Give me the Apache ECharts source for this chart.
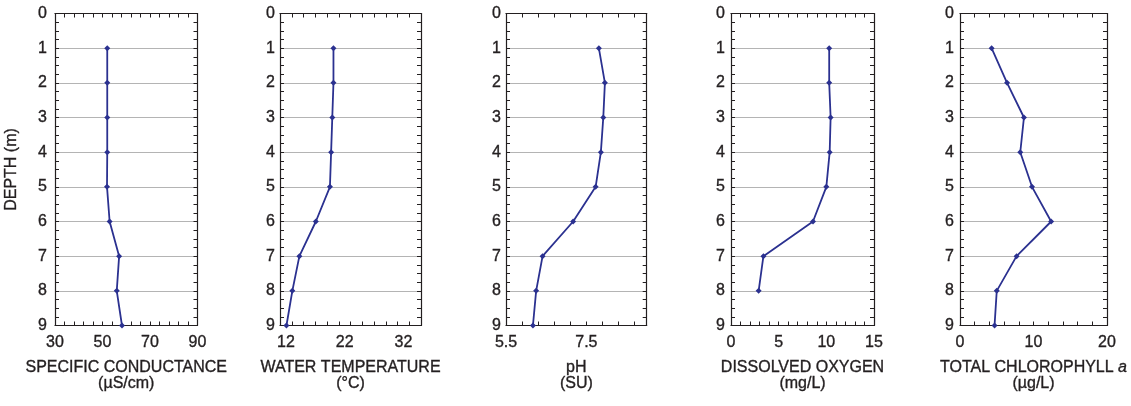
<!DOCTYPE html>
<html><head><meta charset="utf-8">
<script src="https://cdn.jsdelivr.net/npm/echarts@6/dist/echarts.min.js"></script>
<style>html,body{margin:0;padding:0;background:#fff}#c{width:1131px;height:406px}</style>
</head><body><div id="c"></div>
<script>
// ---- data ----
const depths = [1, 2, 3, 4, 5, 6, 7, 8, 9];
const conductance = [52, 52, 52, 52, 51.9, 53, 57, 56, 58.2];
const temperature = [20.1, 20.1, 19.9, 19.7, 19.5, 17.1, 14.3, 13.1, 12.1];
const ph = [7.81, 7.96, 7.92, 7.86, 7.73, 7.17, 6.41, 6.25, 6.17];
const oxygen = [10.3, 10.3, 10.45, 10.35, 10.0, 8.6, 3.4, 2.9, null];
const chlorophyll = [4.3, 6.4, 8.7, 8.2, 9.8, 12.4, 7.7, 5.0, 4.7];
const depthTitle = 'DEPTH (m)';
const titles = [
  'SPECIFIC CONDUCTANCE\n(\u00b5S/cm)',
  'WATER TEMPERATURE\n(\u00b0C)',
  'pH\n(SU)',
  'DISSOLVED OXYGEN\n(mg/L)',
  'TOTAL CHLOROPHYLL {i|a}\n(\u00b5g/L)'
];
const xLabelValues = [[30, 50, 70, 90], [12, 22, 32], [5.5, 7.5], [0, 5, 10, 15], [0, 10, 20]];

// ---- layout / axis config ----
const FONT = '"Liberation Sans", Arial, sans-serif';
const TXT = '#231f20';
const LINE = '#2b3190';
const panels = [
  {values: conductance, left: 55, width: 142.5, min: 30, max: 90, labelInterval: 20, tickInterval: 4, yMargin: 8},
  {values: temperature, left: 280, width: 141, min: 11, max: 35, labelInterval: 1, tickInterval: 2, yMargin: 5},
  {values: ph, left: 506, width: 140.7, min: 5.5, max: 9.0, labelInterval: 2, tickInterval: 0.4, yMargin: 5},
  {values: oxygen, left: 731, width: 143, min: 0, max: 15, labelInterval: 5, tickInterval: 1, yMargin: 6},
  {values: chlorophyll, left: 960, width: 147, min: 0, max: 20, labelInterval: 10, tickInterval: 2, yMargin: 6}
];
const TOP = 13.5, HEIGHT = 312;

const grid = [], xAxis = [], yAxis = [], series = [];
const boxLine = {color: TXT, width: 1.2};
const tickStyle = {color: TXT, width: 1};
const heavy = {textBorderColor: TXT, textBorderWidth: 0.35};

panels.forEach((p, g) => {
  grid.push({left: p.left, top: TOP, width: p.width, height: HEIGHT, outerBoundsMode: 'none', containLabel: false});
  const labs = xLabelValues[g];
  xAxis.push({
    type: 'value', gridIndex: g, position: 'bottom', min: p.min, max: p.max, interval: p.labelInterval,
    axisLine: {show: true, onZero: false, lineStyle: boxLine},
    axisTick: {show: false}, splitLine: {show: false},
    axisLabel: Object.assign({
      show: true, margin: 9, color: TXT, fontSize: 16, fontFamily: FONT,
      showMinLabel: true, showMaxLabel: true,
      formatter: v => labs.some(l => Math.abs(l - v) < 1e-6) ? String(v) : ''
    }, heavy),
    name: titles[g], nameLocation: 'middle', nameGap: 34,
    nameTextStyle: Object.assign({
      color: TXT, fontSize: 16, fontFamily: FONT, lineHeight: 16,
      rich: {i: Object.assign({fontStyle: 'italic', color: TXT, fontSize: 16, fontFamily: FONT, lineHeight: 16}, heavy)}
    }, heavy)
  });
  xAxis.push({
    type: 'value', gridIndex: g, position: 'bottom', min: p.min, max: p.max, interval: p.tickInterval,
    axisLine: {show: false, onZero: false}, axisLabel: {show: false}, splitLine: {show: false},
    axisTick: {show: true, inside: true, length: 4, lineStyle: tickStyle}
  });
  xAxis.push({
    type: 'value', gridIndex: g, position: 'top', min: p.min, max: p.max, interval: p.tickInterval,
    axisLine: {show: true, onZero: false, lineStyle: boxLine}, axisLabel: {show: false}, splitLine: {show: false},
    axisTick: {show: true, inside: true, length: 4, lineStyle: tickStyle}
  });
  yAxis.push({
    type: 'value', gridIndex: g, position: 'left', inverse: true, min: 0, max: 9, interval: 1,
    axisLine: {show: true, onZero: false, lineStyle: boxLine},
    axisTick: {show: false},
    splitLine: {show: true, lineStyle: {color: '#b4b4b4', width: 1}},
    axisLabel: Object.assign({show: true, margin: p.yMargin, color: TXT, fontSize: 16, fontFamily: FONT}, heavy),
    name: g === 0 ? depthTitle : '', nameLocation: 'middle', nameGap: 35, nameRotate: 90,
    nameTextStyle: Object.assign({color: TXT, fontSize: 16, fontFamily: FONT}, heavy)
  });
  yAxis.push({
    type: 'value', gridIndex: g, position: 'left', inverse: true, min: 0, max: 9, interval: 0.25,
    axisLine: {show: false, onZero: false}, axisLabel: {show: false}, splitLine: {show: false},
    axisTick: {show: true, inside: true, length: 4, lineStyle: tickStyle}
  });
  yAxis.push({
    type: 'value', gridIndex: g, position: 'right', inverse: true, min: 0, max: 9, interval: 0.25,
    axisLine: {show: true, onZero: false, lineStyle: boxLine}, axisLabel: {show: false}, splitLine: {show: false},
    axisTick: {show: true, inside: true, length: 4, lineStyle: tickStyle}
  });
  const data = [];
  depths.forEach((d, i) => { if (p.values[i] != null) data.push([p.values[i], d]); });
  series.push({
    type: 'line', xAxisIndex: g * 3, yAxisIndex: g * 3, data: data,
    symbol: 'diamond', symbolSize: 6, showSymbol: true,
    lineStyle: {color: LINE, width: 1.8}, itemStyle: {color: LINE},
    z: 10, silent: true
  });
});

const chart = echarts.init(document.getElementById('c'), null, {renderer: 'canvas'});
chart.setOption({
  animation: false, backgroundColor: '#fff',
  grid: grid, xAxis: xAxis, yAxis: yAxis, series: series
});
</script></body></html>
